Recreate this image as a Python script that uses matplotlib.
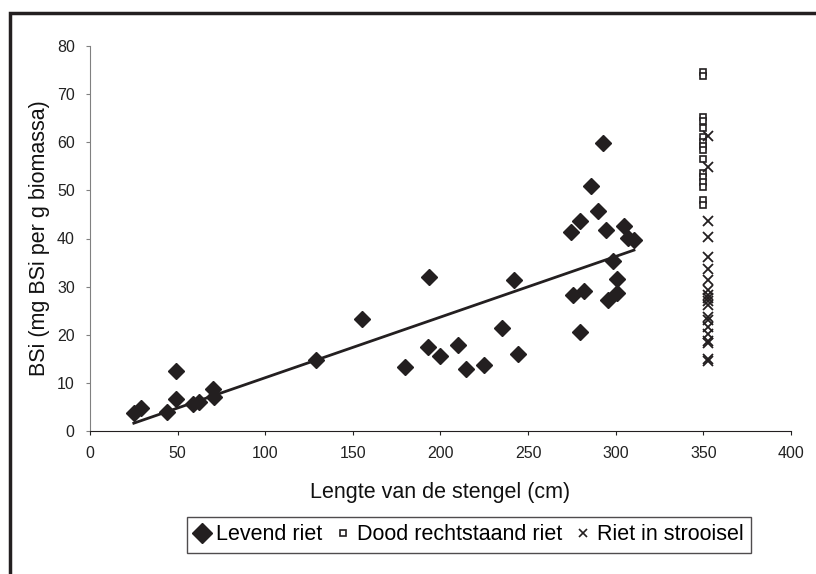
import numpy as np
import matplotlib
matplotlib.use("Agg")
import matplotlib.pyplot as plt
from matplotlib.patches import Rectangle
from matplotlib.lines import Line2D

plt.rcParams['font.family'] = ['Liberation Sans', 'DejaVu Sans']

# Levend riet
lev_x = [25, 29, 43.8, 49, 49, 59, 62, 70.4, 70.8, 129, 155,
         179.7, 192.7, 193.6, 199.7, 209.8, 214.4, 224.6, 234.9, 241.8, 244.4,
         274.5, 275.8, 279.6, 279.6, 281.9, 285.7, 290, 292.5, 294.4, 295.8,
         298.6, 300.5, 300.5, 304.7, 307.2, 310.4]
lev_y = [3.8, 4.8, 4.0, 12.5, 6.6, 5.7, 6.1, 8.7, 7.1, 14.75, 23.3,
         13.4, 17.5, 31.9, 15.6, 17.8, 12.8, 13.7, 21.3, 31.3, 15.9,
         41.3, 28.2, 43.7, 20.6, 29.1, 51.0, 45.7, 59.8, 41.7, 27.2,
         35.3, 31.6, 28.6, 42.7, 40.1, 39.7]

# Dood rechtstaand riet
dood_x = [350] * 16
dood_y = [74.5, 73.8, 65.2, 64.4, 63.0, 61.0, 60.0, 59.2, 58.4, 56.5,
          53.6, 52.7, 51.7, 50.7, 48.0, 47.0]

# Riet in strooisel
stro_x = [352.5] * 20
stro_y = [61.3, 54.8, 43.7, 40.3, 36.2, 33.6, 31.3, 29.3, 28.2, 27.6,
          27.0, 26.2, 23.6, 23.0, 21.6, 20.2, 18.7, 18.3, 14.9, 14.6]

xticks = [0, 50, 100, 150, 200, 250, 300, 350, 400]
yticks = [0, 10, 20, 30, 40, 50, 60, 70, 80]

fig = plt.figure(figsize=(8.16, 5.74), dpi=100)
ax = fig.add_axes([90/816, 1 - 431/574, 701/816, 385/574])

dark = '#231f20'
ax.plot(lev_x, lev_y, linestyle='none', marker='D', ms=8.5, color=dark, mec=dark)
ax.plot(dood_x, dood_y, linestyle='none', marker='s', ms=3.8, mfc='white', mec=dark, mew=1.2)
ax.plot(stro_x, stro_y, linestyle='none', marker='x', ms=6.5, color=dark, mew=1.3)

# linear trend for Levend riet
coef = np.polyfit(lev_x, lev_y, 1)
xs = np.array([min(lev_x), max(lev_x)])
ax.plot(xs, np.polyval(coef, xs), color=dark, lw=2.0)

ax.set_xlim(0, 400)
ax.set_ylim(0, 80)
ax.set_xticks(xticks)
ax.set_yticks(yticks)
ax.tick_params(axis='both', labelsize=11.5, direction='out', length=3, colors='#222222')
ax.tick_params(axis='y', color='#808080', pad=8)
ax.tick_params(axis='x', pad=8)
for s in ['top', 'right']:
    ax.spines[s].set_visible(False)
ax.spines['left'].set_color('#808080')
ax.spines['bottom'].set_color(dark)

ax.set_xlabel('Lengte van de stengel (cm)', fontsize=15.5, labelpad=15, color='#111111')
ax.set_ylabel('BSi (mg BSi per g biomassa)', fontsize=15.5, labelpad=5, color='#111111')

handles = [
    Line2D([], [], linestyle='none', marker='D', ms=10.5, color=dark),
    Line2D([], [], linestyle='none', marker='s', ms=4, mfc='white', mec=dark, mew=1.2),
    Line2D([], [], linestyle='none', marker='x', ms=6, color=dark, mew=1.2),
]
labels = ['Levend riet', 'Dood rechtstaand riet', 'Riet in strooisel']
leg = fig.legend(handles, labels, loc='center', bbox_to_anchor=(469/816, 1 - 535/574),
                 ncol=3, fontsize=15.5, frameon=True, fancybox=False, edgecolor=dark,
                 handlelength=0.7, handletextpad=0.3, columnspacing=0.6, borderpad=0.35)
leg.get_frame().set_linewidth(1.0)

# outer frame (partially outside the image)
fig.patches.append(Rectangle((10/816, -0.2), 1.2, 1.2 - 13/574,
                             transform=fig.transFigure, fill=False,
                             edgecolor=dark, linewidth=2.5, clip_on=False))

fig.savefig('out.png', dpi=100)
